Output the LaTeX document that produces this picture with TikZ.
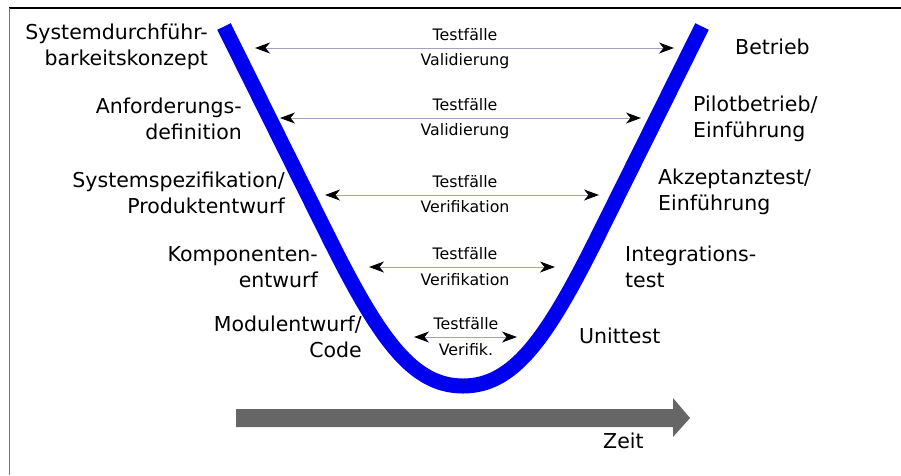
\documentclass[tikz,border=0pt]{standalone}
\usepackage{fontspec}
\setmainfont{DejaVu Sans}
\usetikzlibrary{arrows.meta}

\definecolor{vblue}{RGB}{0,0,240}
\definecolor{testline}{RGB}{160,160,192}
\definecolor{timegray}{RGB}{102,102,102}
\definecolor{framegray}{RGB}{120,120,120}

\begin{document}
\begin{tikzpicture}[x=1pt,y=-1pt,
  phase/.style={font=\fontsize{20.5}{25.5}\selectfont, inner sep=0pt},
  leftphase/.style={phase, align=right, anchor=base east},
  rightphase/.style={phase, align=left, anchor=base west},
  testcase/.style={font=\fontsize{15.8}{18}\selectfont, inner sep=0pt, anchor=base},
  testarrow/.style={draw=testline, line width=1pt,
    {Stealth[length=15pt,width=11pt,inset=4.5pt,color=black]}-{Stealth[length=15pt,width=11pt,inset=4.5pt,color=black]}},
  vcurve/.style={draw=vblue, line width=15pt, line join=round},
  timearrow/.style={fill=timegray, draw=none}
]
\useasboundingbox (0,0) rectangle (901,475);

% frame edges
\draw[black, line width=1.3pt] (9,8) -- (901,8);
\draw[framegray, line width=1.3pt] (9.5,8) -- (9.5,475);

% the V
\draw[vcurve] (224,26.5) -- (330,240)
  .. controls (380,340) and (413,386) .. (463,386)
  .. controls (513,386) and (546,340) .. (596,240) -- (702,26.5);

% phases of the left branch (anchored at the baseline of the last line)
\node[leftphase] (sdk) at (208,65) {Systemdurchführ-\\barkeitskonzept};
\node[leftphase] (afd) at (242,139) {Anforderungs-\\definition};
\node[leftphase] (ssp) at (285,213) {Systemspezifikation/\\Produktentwurf};
\node[leftphase] (kpe) at (318,287) {Komponenten-\\entwurf};
\node[leftphase] (mod) at (362,357) {Modulentwurf/\\Code};

% phases of the right branch
\node[rightphase] (btr) at (735,54) {Betrieb};
\node[rightphase] (plt) at (693,137) {Pilotbetrieb/\\Einführung};
\node[rightphase] (akz) at (658,210) {Akzeptanztest/\\Einführung};
\node[rightphase] (int) at (625,287) {Integrations-\\test};
\node[rightphase] (unt) at (579,343) {Unittest};

% test case arrows between the branches
\coordinate (l1) at (255,48);  \coordinate (r1) at (674,48);
\coordinate (l2) at (280,118); \coordinate (r2) at (641,118);
\coordinate (l3) at (325,195); \coordinate (r3) at (599,195);
\coordinate (l4) at (369,267); \coordinate (r4) at (555,267);
\coordinate (l5) at (414,337); \coordinate (r5) at (517,337);

\draw[testarrow] (l1) -- (r1);
\draw[testarrow] (l2) -- (r2);
\draw[testarrow] (l3) -- (r3);
\draw[testarrow] (l4) -- (r4);
\draw[testarrow] (l5) -- (r5);

\node[testcase] (t1) at (465,40) {Testfälle};
\node[testcase] (v1) at (465,65) {Validierung};
\node[testcase] (t2) at (465,110) {Testfälle};
\node[testcase] (v2) at (465,135) {Validierung};
\node[testcase] (t3) at (465,187) {Testfälle};
\node[testcase] (v3) at (465,212) {Verifikation};
\node[testcase] (t4) at (465,259) {Testfälle};
\node[testcase] (v4) at (465,285) {Verifikation};
\node[testcase] (t5) at (466,329) {Testfälle};
\node[testcase] (v5) at (466,355) {Verifik.};

% time axis
\fill[timearrow] (236,409) -- (673,409) -- (673,398) -- (690,418)
  -- (673,437) -- (673,427) -- (236,427) -- cycle;
\node[phase, anchor=base west] (zeit) at (603,448) {Zeit};
\end{tikzpicture}
\end{document}
